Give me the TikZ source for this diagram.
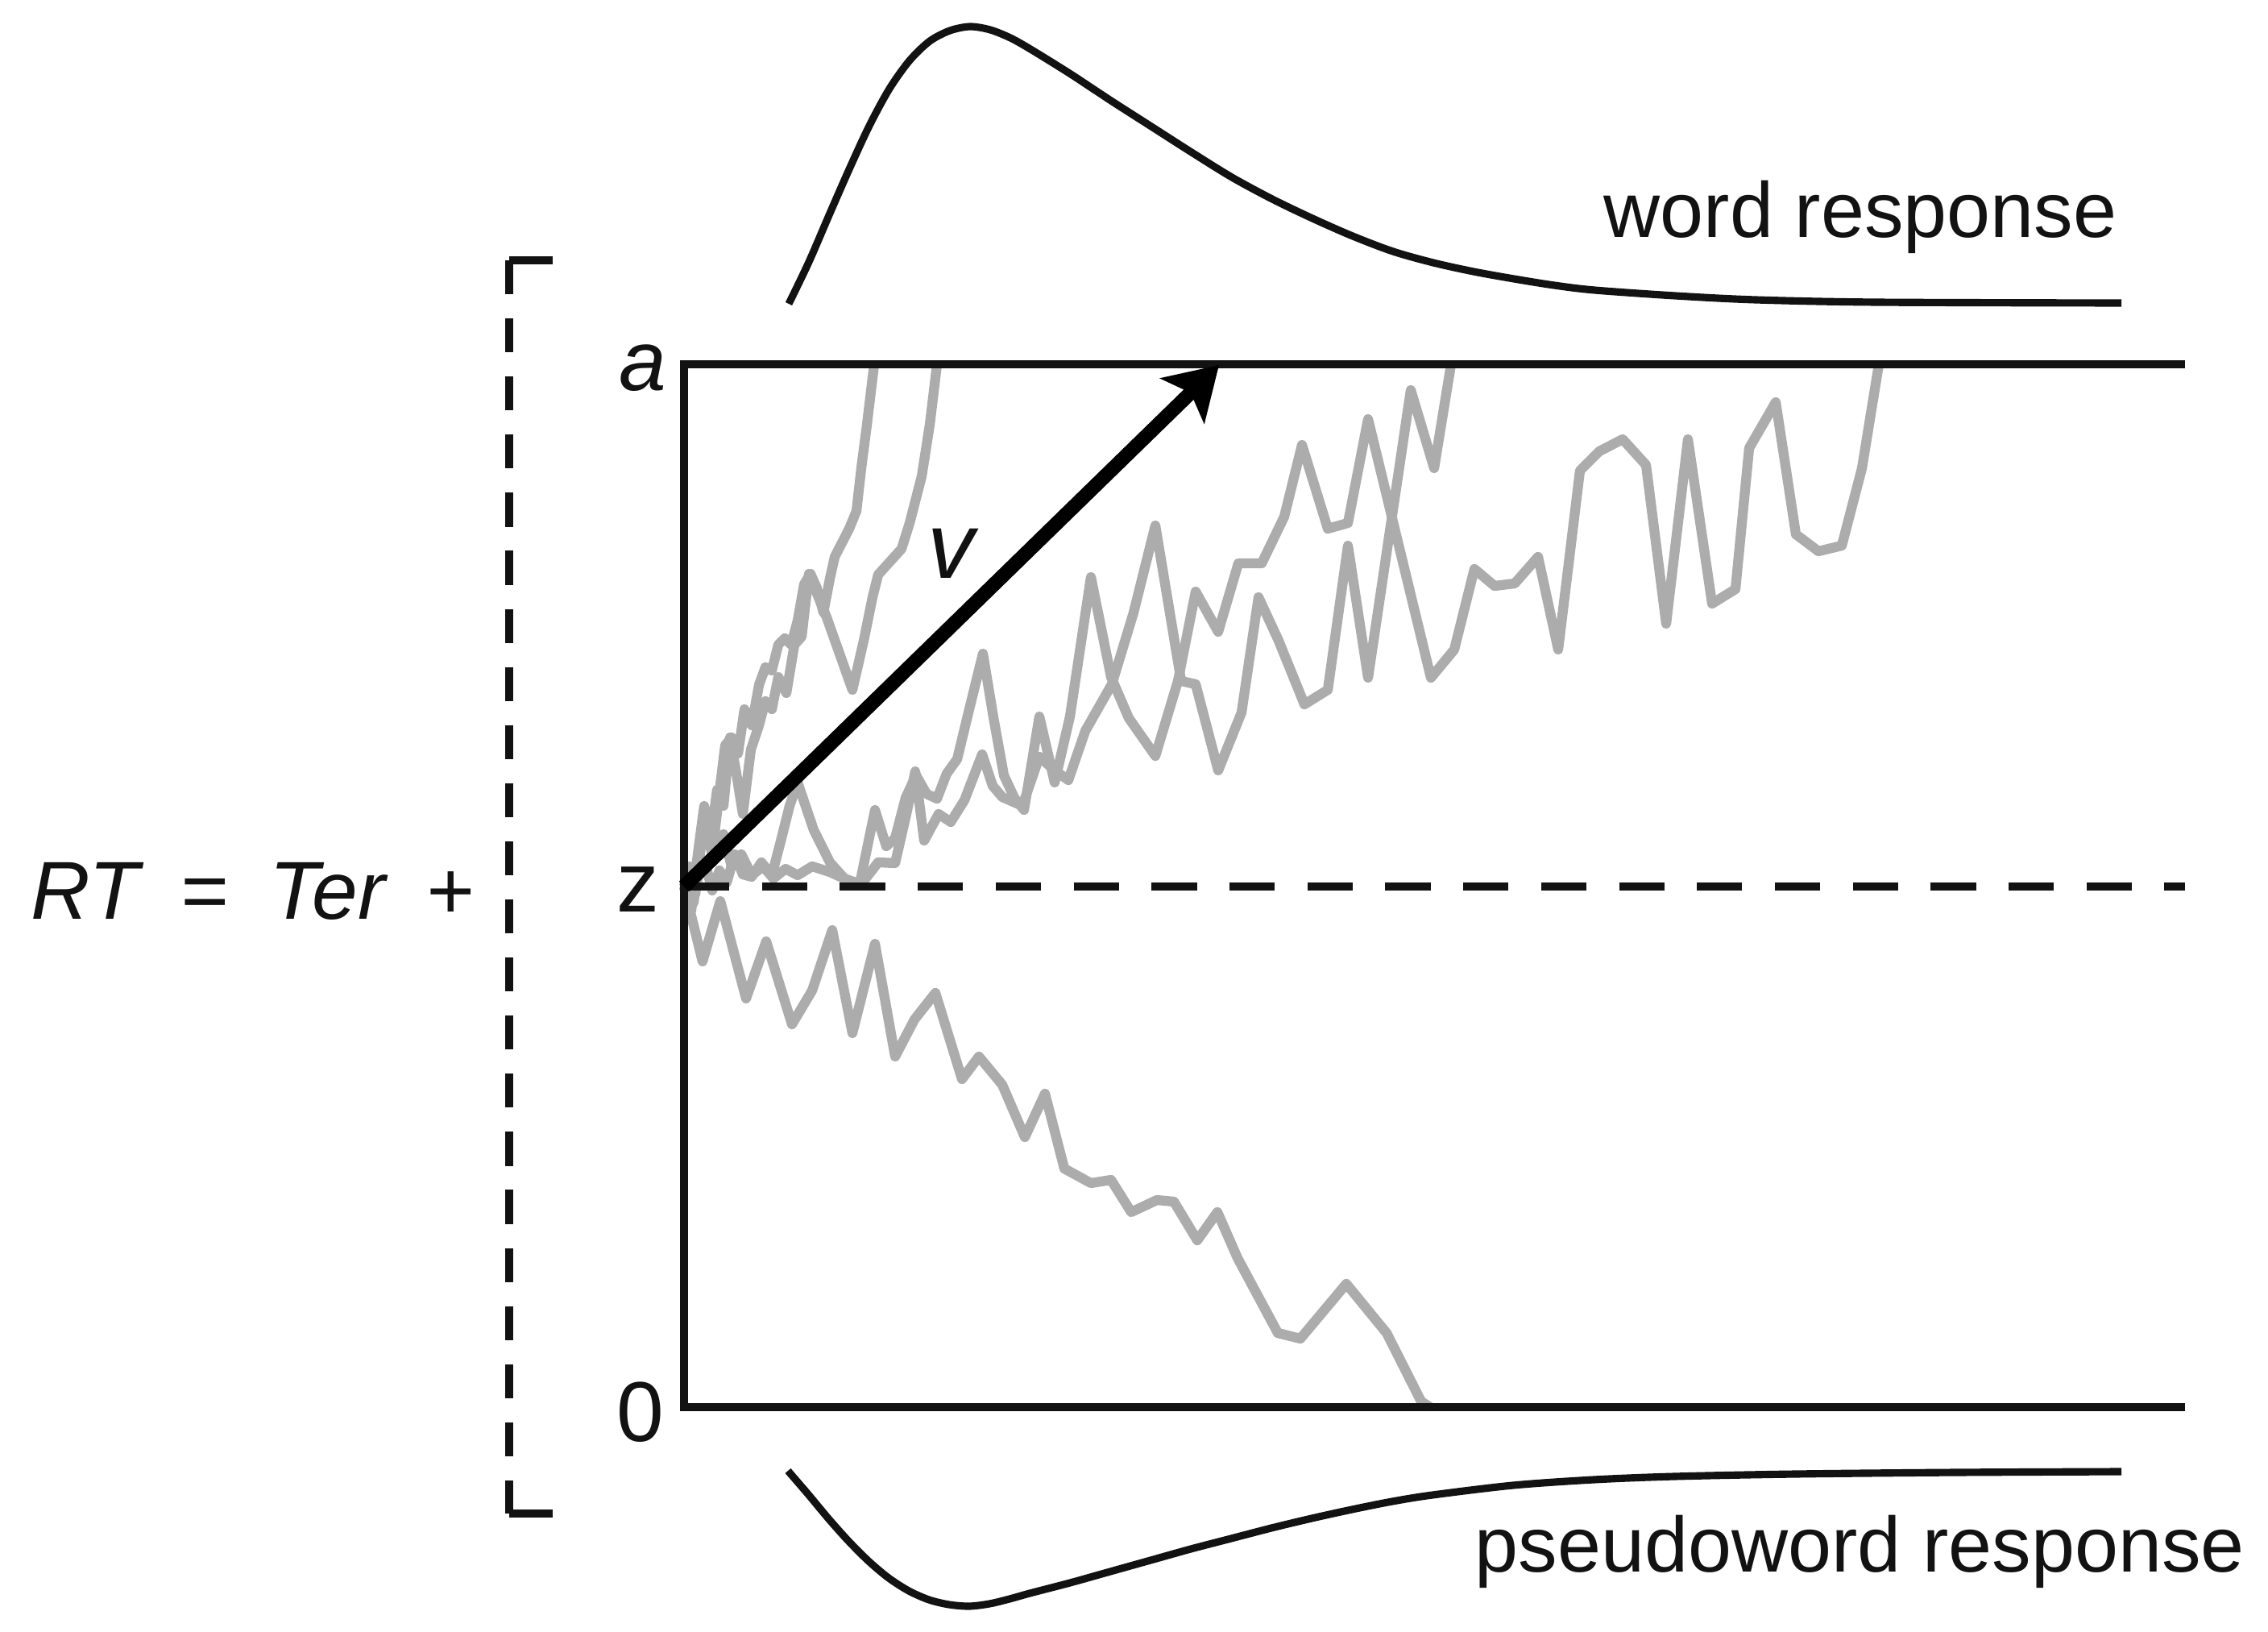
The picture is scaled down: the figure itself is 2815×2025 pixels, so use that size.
\documentclass[tikz,border=0pt]{standalone}
\usepackage{fontspec}
\setmainfont{Liberation Sans}
\usepackage{tikz}
\usetikzlibrary{arrows.meta}
\definecolor{plotInk}{RGB}{18,18,18}
\definecolor{walkGray}{RGB}{172,172,172}
\tikzset{
  % the two absorbing boundaries, the start line and the Ter bracket
  bound/.style={draw=plotInk, line width=3pt},
  startline/.style={bound, dash pattern=on 16pt off 11.5pt},
  bracket/.style={bound, dash pattern=on 12pt off 8.5pt},
  % the response-time densities above and below the boundaries
  density/.style={draw=plotInk, line width=2.6pt, smooth, tension=0.5},
  % one sample path of the diffusion process
  walk/.style={draw=walkGray, line width=3.5pt, line join=round},
  % the mean drift rate
  drift/.style={-{Stealth[length=18pt,width=22pt,inset=4pt]}, draw=black, line width=5pt},
  % labels
  lbl/.style={font=\fontsize{27.6}{33}\selectfont, text=plotInk, inner sep=0pt},
  bndlbl/.style={font=\fontsize{30}{36}\selectfont, text=plotInk, inner sep=0pt},
}

\begin{document}
\begin{tikzpicture}[x=0.01cm, y=-0.01cm]
\useasboundingbox (0,0) rectangle (2815,2025);

% ============================ sample paths =================================
\draw[walk] plot coordinates {(849,1100) (858,1125) (866,1090) (875,1070) (884,1105)
  (893,1080) (902,1095) (912,1060) (922,1085) (933,1088) (945,1070) (958,1086)
  (970,1040) (980,1000) (990,971) (1010,1030) (1030,1070) (1048,1090) (1067,1097)
  (1086,1005) (1100,1050) (1111,1040) (1124,990) (1137,962) (1150,985) (1163,991)
  (1175,960) (1188,942) (1203,880) (1220,811) (1233,890) (1246,962) (1259,990)
  (1271,1005) (1290,889) (1309,971) (1328,889) (1354,716) (1379,840) (1401,891)
  (1434,938) (1462,845) (1484,734) (1512,784) (1537,699) (1566,699) (1594,641)
  (1616,552) (1648,656) (1673,649) (1698,520) (1776,841) (1805,806) (1830,706)
  (1855,727) (1880,724) (1909,691) (1934,806) (1961,584) (1985,560) (2014,545)
  (2043,577) (2068,774) (2095,545) (2125,749) (2154,731) (2171,556) (2204,499)
  (2229,663) (2257,684) (2286,677) (2311,581) (2332,452)};

\draw[walk] plot coordinates {(849,1100) (856,1075) (863,1110) (870,1050) (880,1020)
  (889,1060) (898,1035) (908,1075) (920,1060) (933,1086) (947,1075) (960,1090)
  (975,1078) (990,1086) (1008,1075) (1030,1082) (1054,1093) (1069,1097) (1090,1070)
  (1111,1071) (1125,1010) (1136,957) (1147,1043) (1165,1010) (1180,1020) (1197,993)
  (1219,936) (1232,975) (1244,989) (1269,1000) (1290,939) (1308,955) (1326,968)
  (1347,907) (1380,849) (1407,760) (1434,652) (1466,845) (1484,849) (1512,956)
  (1541,884) (1562,741) (1587,795) (1619,874) (1648,856) (1673,677) (1698,841)
  (1751,484) (1780,581) (1801,452)};

\draw[walk] plot coordinates {(849,1100) (855,1080) (861,1120) (868,1050) (876,1030)
  (884,1060) (892,990) (900,925) (908,915) (916,935) (924,880) (933,900) (942,850)
  (950,828) (958,832) (966,800) (974,792) (982,800) (990,770) (998,725) (1006,712)
  (1014,730) (1022,760) (1030,718) (1036,691) (1054,656) (1063,634) (1069,581)
  (1076,527) (1085,452)};

\draw[walk] plot coordinates {(849,1100) (858,1130) (866,1060) (874,1000) (882,1040)
  (890,980) (898,1000) (906,915) (914,960) (922,1010) (932,930) (942,900) (950,870)
  (958,880) (966,840) (976,860) (986,800) (995,790) (1004,712) (1026,766) (1058,856)
  (1072,795) (1083,741) (1090,713) (1119,681) (1129,649) (1144,591) (1154,527)
  (1163,452)};

\draw[walk] plot coordinates {(849,1100) (872,1193) (894,1118) (926,1239) (951,1168)
  (983,1271) (1008,1229) (1033,1154) (1058,1282) (1086,1171) (1111,1311) (1135,1265)
  (1161,1232) (1194,1339) (1215,1311) (1244,1346) (1272,1411) (1297,1357) (1321,1450)
  (1354,1468) (1379,1464) (1404,1504) (1436,1489) (1457,1491) (1486,1539) (1511,1504)
  (1536,1561) (1586,1654) (1614,1661) (1671,1593) (1721,1654) (1764,1739) (1775,1746)};

% ============================= boundaries ==================================
\coordinate (aL) at (849,452);  \coordinate (aR) at (2712,452);
\coordinate (zL) at (849,1100); \coordinate (zR) at (2712,1100);
\coordinate (oL) at (849,1746); \coordinate (oR) at (2712,1746);

\draw[bound] (aR) -- (aL) -- (oL) -- (oR);
\draw[startline] (zL) -- (zR);

\node[bndlbl, anchor=base] (albl)  at (798,485)  {\itshape a};
\node[bndlbl, anchor=base] (zlbl)  at (792,1131) {z};
\node[bndlbl, anchor=base] (olbl)  at (795,1788) {0};

% drift rate
\coordinate (vtip) at (1513,453);
\draw[drift] (zL) -- (vtip);
\node[font=\fontsize{33}{40}\selectfont\itshape, text=plotInk, inner sep=0pt,
      anchor=base] (vlbl) at (1180,718) {v};

% ============================ Ter bracket ==================================
\coordinate (brTop) at (632,323);  \coordinate (brTopEnd) at (686,323);
\coordinate (brBot) at (632,1878); \coordinate (brBotEnd) at (686,1878);

\draw[bracket] (brTop) -- (brBot);
\draw[bound] (brTopEnd) -- (brTop);
\draw[bound] (brBotEnd) -- (brBot);

\node[lbl, font=\fontsize{29}{35}\selectfont, anchor=base west] (rtlbl) at (38,1140)
      {\itshape RT\hspace{.5em}=\hspace{.5em}Ter\hspace{.5em}+};

% ============================== densities ==================================
\draw[density] plot coordinates {(979,377) (1004,325) (1029,267) (1054,210)
  (1079,156) (1104,110) (1129,75) (1154,51) (1179,38) (1204,33) (1229,37)
  (1254,47) (1279,61) (1329,92) (1379,125) (1429,157) (1479,189) (1529,220)
  (1579,247) (1629,271) (1679,293) (1729,312) (1779,326) (1829,337) (1879,346)
  (1929,354) (1979,360) (2079,367) (2179,372) (2329,375) (2633,376)};
\node[lbl, anchor=base west] (wordlbl) at (1990,295) {word response};

\draw[density] plot coordinates {(978,1825) (1003,1854) (1028,1884) (1053,1912)
  (1078,1937) (1103,1958) (1128,1974) (1153,1985) (1178,1991) (1203,1993)
  (1228,1990) (1253,1984) (1278,1977) (1328,1964) (1378,1950) (1428,1936)
  (1478,1922) (1528,1909) (1578,1896) (1628,1884) (1678,1873) (1728,1863)
  (1778,1855) (1878,1843) (1978,1836) (2078,1832) (2228,1829) (2428,1827)
  (2633,1826)};
\node[lbl, anchor=base west] (pseudolbl) at (1830,1950) {pseudoword response};

\end{tikzpicture}
\end{document}
